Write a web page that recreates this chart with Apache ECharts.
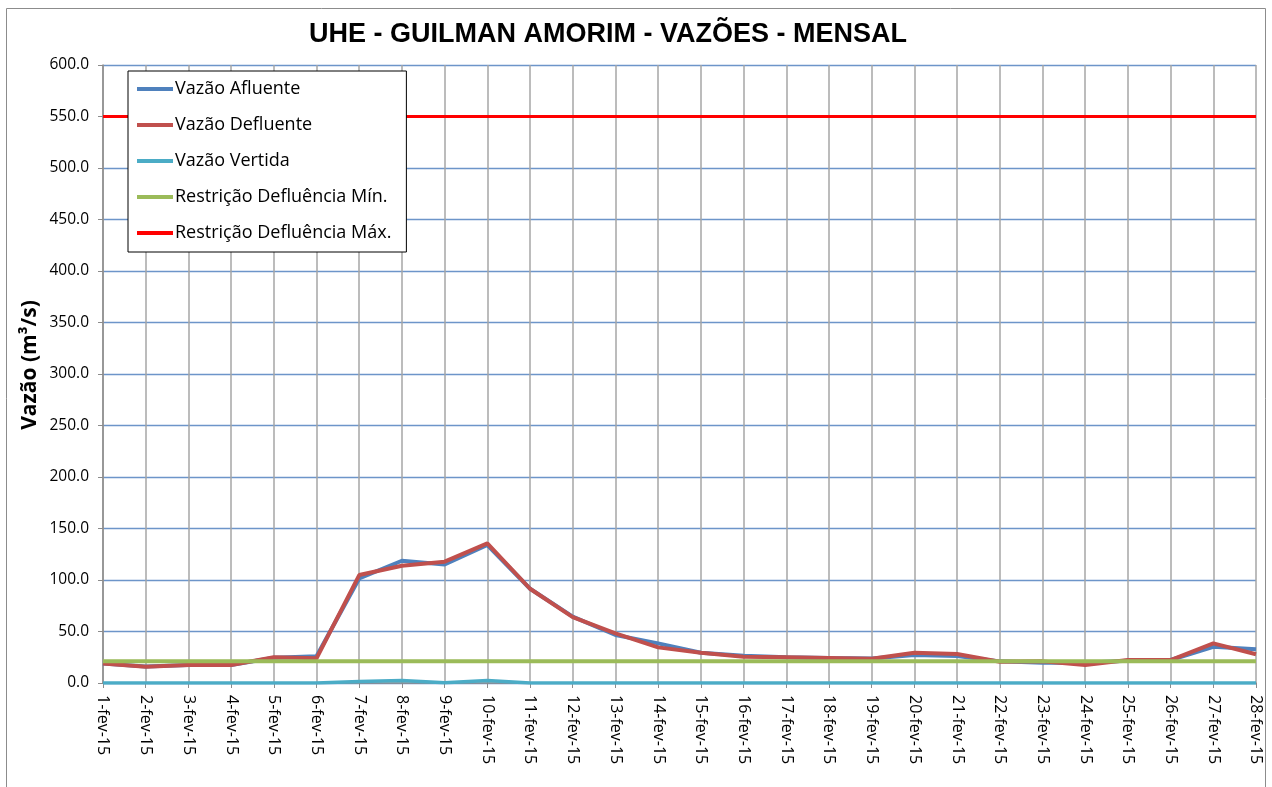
<!DOCTYPE html>
<html><head><meta charset="utf-8">
<script src="https://cdn.jsdelivr.net/npm/echarts@6/dist/echarts.min.js"></script>
<style>html,body{margin:0;padding:0;background:#fff}#c{width:1272px;height:787px}</style>
</head><body><div id="c"></div>
<script>
const categories = ['1-fev-15','2-fev-15','3-fev-15','4-fev-15','5-fev-15','6-fev-15','7-fev-15','8-fev-15','9-fev-15','10-fev-15','11-fev-15','12-fev-15','13-fev-15','14-fev-15','15-fev-15','16-fev-15','17-fev-15','18-fev-15','19-fev-15','20-fev-15','21-fev-15','22-fev-15','23-fev-15','24-fev-15','25-fev-15','26-fev-15','27-fev-15','28-fev-15'];
const vazaoAfluente = [19,16,17.5,17.5,24.5,26,101.5,118.7,115,134,91.5,64.5,46.6,38.5,29.4,26.5,24.9,24.3,23.8,27.2,26.2,21,19.7,19.7,21.6,22.3,35.2,32.7];
const vazaoDefluente = [19,15.8,17.5,17.5,25,24,104.8,113.9,117.8,135.6,91.5,64,48.2,34.6,29.4,25.5,24.9,24.3,23.5,29.4,28.2,20.7,21,17.5,22.3,22.3,38.5,27.9];
const vazaoVertida = [0,0,0,0,0,0,1.5,2.5,0.2,2.5,0,0,0,0,0,0,0,0,0,0,0,0,0,0,0,0,0,0];
const restricaoMin = [21,21,21,21,21,21,21,21,21,21,21,21,21,21,21,21,21,21,21,21,21,21,21,21,21,21,21,21];
const restricaoMax = [550,550,550,550,550,550,550,550,550,550,550,550,550,550,550,550,550,550,550,550,550,550,550,550,550,550,550,550];
const yTicks = {min:0, max:600, interval:50};
const yTitle = 'Vazão (m³/s)';

const font = 'Open Sans';
const chart = echarts.init(document.getElementById('c'), null, {renderer:'canvas'});
function mk(name, data, color, width, z){
  return {name, type:'line', data, symbol:'none', z, lineStyle:{color, width}, itemStyle:{color}, animation:false};
}
chart.setOption({
  animation:false,
  textStyle:{fontFamily:font},
  graphic:[
    {type:'rect', shape:{x:6.5,y:8.5,width:1259,height:800}, style:{fill:null, stroke:'#8c8c8c', lineWidth:1}, z:-10},
    {type:'text', x:30, y:365, rotation:Math.PI/2, style:{text:yTitle, fontFamily:font, fontWeight:'bold', fontSize:21, fill:'#000', align:'center', verticalAlign:'middle'}}
  ],
  title:{text:'UHE - GUILMAN AMORIM - VAZÕES - MENSAL', left:603, textAlign:'center', top:16,
    textStyle:{fontFamily:'Liberation Sans', fontWeight:'bold', fontSize:27, color:'#000'}},
  grid:{left:103, right:16, top:65, bottom:104, containLabel:false},
  legend:{orient:'vertical', left:128, top:71, z:20, padding:[9,15,10,9], itemGap:18, itemWidth:36, itemHeight:4, icon:'rect',
    backgroundColor:'#fff', borderColor:'#000', borderWidth:1,
    textStyle:{fontFamily:font, fontSize:18, lineHeight:18, color:'#000', padding:[0,0,0,-3]},
    data:['Vazão Afluente','Vazão Defluente','Vazão Vertida','Restrição Defluência Mín.','Restrição Defluência Máx.']},
  xAxis:{type:'category', data:categories, boundaryGap:false,
    axisLine:{lineStyle:{color:'#8c8c8c', width:1.5}},
    axisTick:{show:true, length:5, lineStyle:{color:'#8c8c8c'}},
    axisLabel:{rotate:-90, fontSize:16, color:'#000', fontFamily:font, margin:12, interval:0},
    splitLine:{show:true, lineStyle:{color:'#a6a6a6', width:1.5}}},
  yAxis:{type:'value', min:yTicks.min, max:yTicks.max, interval:yTicks.interval,
    axisLine:{show:true, lineStyle:{color:'#8c8c8c', width:1.5}},
    axisTick:{show:true, length:5, lineStyle:{color:'#8c8c8c'}},
    axisLabel:{fontSize:15.5, color:'#000', fontFamily:font, margin:14, formatter:v=>v.toFixed(1)},
    splitLine:{show:true, lineStyle:{color:'#6d95c9', width:1.3}}},
  series:[
    mk('Vazão Afluente', vazaoAfluente, '#4f81bd', 4, 2),
    mk('Vazão Defluente', vazaoDefluente, '#c0504d', 4, 3),
    mk('Vazão Vertida', vazaoVertida, '#4bacc6', 3.5, 4),
    mk('Restrição Defluência Mín.', restricaoMin, '#9bbb59', 4, 5),
    mk('Restrição Defluência Máx.', restricaoMax, '#ff0000', 3, 6)
  ]
});
</script></body></html>
